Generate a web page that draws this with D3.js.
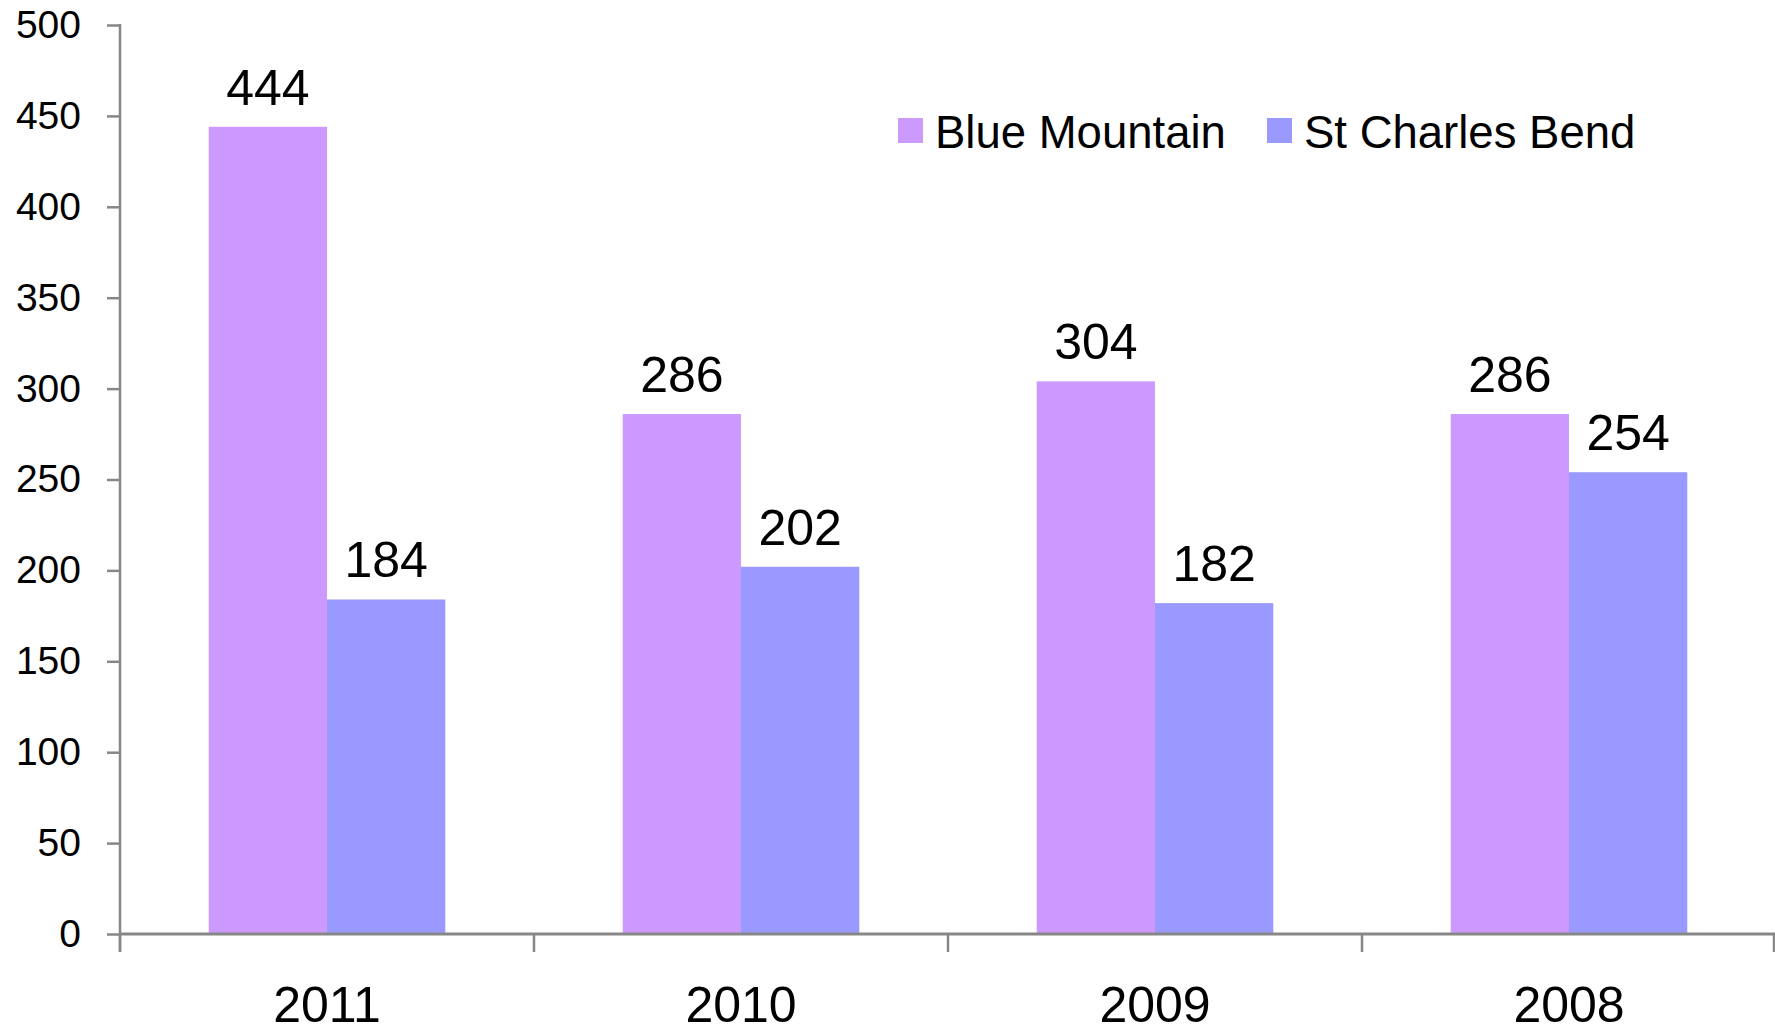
<!DOCTYPE html>
<html>
<head>
<meta charset="utf-8">
<script src="https://cdn.jsdelivr.net/npm/d3@7"></script>
<style>
    body { margin: 0; background: #fff; }
    text { font-family: "Liberation Sans", Arial, sans-serif; fill: #000; }
</style>
</head>
<body>
<div class="chart"></div>
<script>
const years = ["2011", "2010", "2009", "2008"];
const series = ["Blue Mountain", "St Charles Bend"];
const blueMountain = [444, 286, 304, 286];
const stCharlesBend = [184, 202, 182, 254];
const yTicks = [0, 50, 100, 150, 200, 250, 300, 350, 400, 450, 500];
const colors = ["#cc99ff", "#9999ff"];

function drawChart() {
    const width = 1775;
    const height = 1032;
    const axisColor = "#878787";

    const svg = d3.select('.chart')
        .append('svg')
        .attr('width', width)
        .attr('height', height)

    const x0 = d3.scaleBand()
        .domain(years)
        .range([120, 1776]);

    const x1 = d3.scaleBand()
        .domain(series)
        .range([0, x0.bandwidth()])
        .paddingOuter(0.75);

    const y = d3.scaleLinear()
        .domain([0, 500])
        .range([934, 25]);

    let rows = years.map(function (yr, i) {
        return { year: yr, values: [blueMountain[i], stCharlesBend[i]] };
    });

    // bars
    const groups = svg.selectAll(".group")
        .data(rows)
        .enter()
        .append("g")
        .attr("class", "group")
        .attr("transform", d => "translate(" + x0(d.year) + ",0)");

    groups.selectAll("rect")
        .data(d => d.values.map((v, i) => ({ name: series[i], value: v, idx: i })))
        .enter()
        .append("rect")
        .attr("x", d => x1(d.name))
        .attr("y", d => y(d.value))
        .attr("width", x1.bandwidth())
        .attr("height", d => y(0) - y(d.value))
        .attr("fill", d => colors[d.idx]);

    groups.selectAll(".data-label")
        .data(d => d.values.map((v, i) => ({ name: series[i], value: v })))
        .enter()
        .append("text")
        .attr("class", "data-label")
        .attr("text-anchor", "middle")
        .attr("x", d => x1(d.name) + x1.bandwidth() / 2)
        .attr("y", d => y(d.value) - 22)
        .attr("font-size", "50px")
        .text(d => d.value);

    // y axis
    const yAxis = svg.append("g")
        .attr("transform", "translate(120,0)")
        .call(d3.axisLeft(y).tickValues(yTicks).tickSize(13).tickPadding(26));
    yAxis.select(".domain").remove();
    yAxis.selectAll("line").attr("stroke", axisColor).attr("stroke-width", 2.5);
    yAxis.selectAll("text")
        .attr("font-size", "39px")
        .attr("font-family", "Liberation Sans, Arial, sans-serif")
        .attr("fill", "#000");

    svg.append("line")
        .attr("x1", 120).attr("x2", 120)
        .attr("y1", y(500) - 1).attr("y2", 952)
        .attr("stroke", axisColor)
        .attr("stroke-width", 2.5);

    // x axis
    svg.append("line")
        .attr("x1", 120).attr("x2", width)
        .attr("y1", y(0)).attr("y2", y(0))
        .attr("stroke", axisColor)
        .attr("stroke-width", 3);

    let tickPos = years.map(d => x0(d)).concat([x0("2008") + x0.bandwidth() - 2]);
    svg.selectAll(".xtick")
        .data(tickPos)
        .enter()
        .append("line")
        .attr("class", "xtick")
        .attr("x1", d => d).attr("x2", d => d)
        .attr("y1", y(0)).attr("y2", 952)
        .attr("stroke", axisColor)
        .attr("stroke-width", 2.5);

    svg.selectAll(".xlabel")
        .data(years)
        .enter()
        .append("text")
        .attr("class", "xlabel")
        .attr("text-anchor", "middle")
        .attr("x", d => x0(d) + x0.bandwidth() / 2)
        .attr("y", 1022)
        .attr("font-size", "50px")
        .text(d => d);

    // legend
    const legendX = [898, 1267];
    const legend = svg.selectAll(".legend")
        .data(series)
        .enter()
        .append("g")
        .attr("class", "legend")
        .attr("transform", (d, i) => "translate(" + legendX[i] + ",118)");

    legend.append("rect")
        .attr("width", 25)
        .attr("height", 25)
        .attr("fill", (d, i) => colors[i]);

    legend.append("text")
        .attr("x", 37)
        .attr("y", 30)
        .attr("font-size", "45.5px")
        .text(d => d);
}

drawChart();
</script>
</body>
</html>
